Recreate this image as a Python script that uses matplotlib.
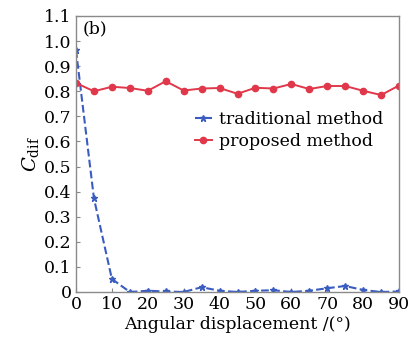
import matplotlib
matplotlib.use("Agg")
import matplotlib.pyplot as plt

angles = [0, 5, 10, 15, 20, 25, 30, 35, 40, 45, 50, 55, 60, 65, 70, 75, 80, 85, 90]
traditional = [0.964, 0.373, 0.052, 0.0, 0.005, 0.002, 0.0, 0.019, 0.005, 0.0, 0.005,
               0.007, 0.0, 0.005, 0.015, 0.024, 0.008, 0.0, 0.002]
proposed = [0.833, 0.800, 0.818, 0.813, 0.802, 0.840, 0.803, 0.811, 0.813, 0.790, 0.814,
            0.811, 0.829, 0.809, 0.821, 0.821, 0.802, 0.785, 0.823]
xticks = [0, 10, 20, 30, 40, 50, 60, 70, 80, 90]
yticks = [0, 0.1, 0.2, 0.3, 0.4, 0.5, 0.6, 0.7, 0.8, 0.9, 1.0, 1.1]
ytick_labels = ["0", "0.1", "0.2", "0.3", "0.4", "0.5", "0.6", "0.7", "0.8", "0.9", "1.0", "1.1"]

plt.rcParams['font.family'] = ['DejaVu Serif']
plt.rcParams['mathtext.fontset'] = 'dejavuserif'

fig = plt.figure(figsize=(4.15, 3.39), dpi=100)
ax = fig.add_axes([76/415, 1-292/339, (399-76)/415, (292-16)/339])

ax.plot(angles, traditional, linestyle='--', color='#3a5cc0', lw=1.5, marker='*',
        markersize=5, label='traditional method')
ax.plot(angles, proposed, linestyle='-', color='#e0384a', lw=1.4, marker='o',
        markersize=4.5, label='proposed method')

ax.set_xlim(0, 90)
ax.set_ylim(0, 1.1)
ax.set_xticks(xticks)
ax.set_yticks(yticks)
ax.set_yticklabels(ytick_labels)
ax.tick_params(direction='in', length=3, labelsize=12.5, color='#888888', pad=3)
for s in ax.spines.values():
    s.set_color('#8a8a8a')
    s.set_linewidth(1.0)

ax.set_xlabel('Angular displacement /(°)', fontsize=12.5, labelpad=2)
ax.set_ylabel(r'$C_{\mathrm{dif}}$', fontsize=14, labelpad=2)
ax.text(0.02, 0.985, '(b)', transform=ax.transAxes, fontsize=12.5, va='top', ha='left')

ax.legend(loc='upper left', bbox_to_anchor=(0.33, 0.70), frameon=False, fontsize=12.5,
          handlelength=1.0, handletextpad=0.4, labelspacing=0.3, borderpad=0.2)

fig.savefig('out.png', dpi=100)
